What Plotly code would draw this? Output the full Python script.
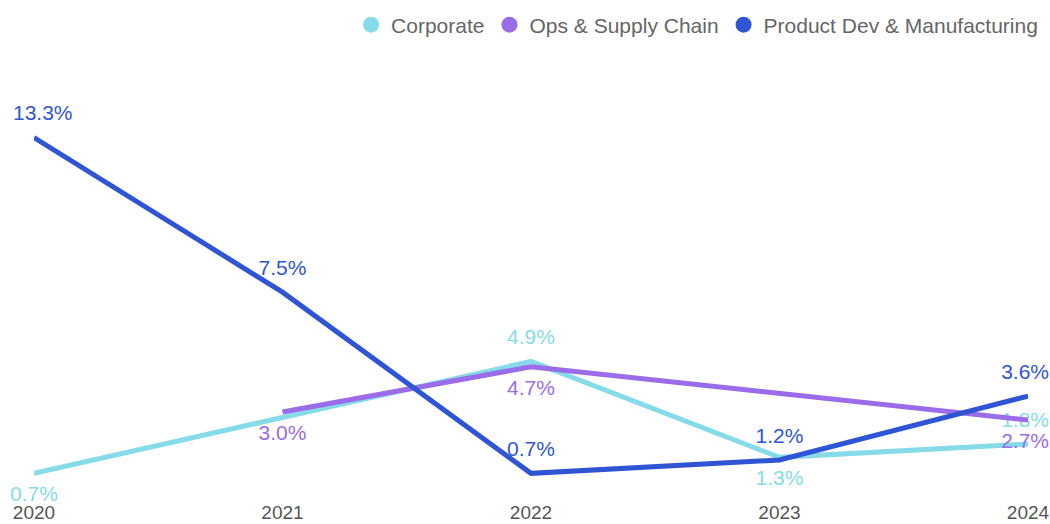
import plotly.graph_objects as go

years = ["2020", "2021", "2022", "2023", "2024"]
corporate = [0.7, None, 4.9, 1.3, 1.8]
ops_supply = [None, 3.0, 4.7, None, 2.7]
product_dev = [13.3, 7.5, 0.7, 1.2, 3.6]

series_names = ["Corporate", "Ops & Supply Chain", "Product Dev & Manufacturing"]
colors = ["#86dbe9", "#9a6ce9", "#2f55d4"]
positions = [
    ["bottom center", "bottom center", "top center", "bottom center", "top center"],
    ["bottom center", "bottom center", "bottom center", "bottom center", "bottom center"],
    ["top center"] * 5,
]


def fmt(v, i):
    if v is None:
        return None
    s = f"{v:.1f}%"
    if i == len(years) - 1:
        s += "\u00a0"
    if i == 0 and v >= 10:
        s = "\u00a0\u00a0\u00a0" + s
    return s


fig = go.Figure()
for name, vals, col, pos in zip(series_names, [corporate, ops_supply, product_dev], colors, positions):
    fig.add_trace(go.Scatter(
        x=years, y=vals, mode="lines+markers+text", name=name,
        line=dict(color=col, width=5), connectgaps=True,
        marker=dict(size=18, opacity=0, color=col),
        text=[fmt(v, i) for i, v in enumerate(vals)],
        textposition=pos, textfont=dict(color=col, size=21, family="Liberation Sans, Arial"),
        showlegend=False, cliponaxis=False, hoverinfo="skip",
    ))
for name, col in zip(series_names, colors):
    fig.add_trace(go.Scatter(
        x=[None], y=[None], mode="markers", name=name,
        marker=dict(size=16, color=col), showlegend=True,
    ))

fig.update_layout(
    width=1050, height=524,
    margin=dict(l=34, r=22, t=4, b=32),
    paper_bgcolor="white", plot_bgcolor="white",
    font=dict(family="Liberation Sans, Arial", color="#555555"),
    xaxis=dict(type="category", range=[0, 4], showgrid=False, zeroline=False,
               showline=False, ticks="outside", ticklen=3, tickcolor="rgba(0,0,0,0)",
               automargin=False, tickfont=dict(size=19, color="#555555")),
    yaxis=dict(range=[0, 17.98], visible=False, automargin=False),
    legend=dict(orientation="h", x=0.319, xanchor="left", y=0.975, yanchor="middle",
                font=dict(size=21, color="#666666"), itemwidth=30,
                bgcolor="rgba(0,0,0,0)"),
)
fig.write_html("out.html", config={"displayModeBar": False},
               post_script="document.body.style.margin='0px';")
